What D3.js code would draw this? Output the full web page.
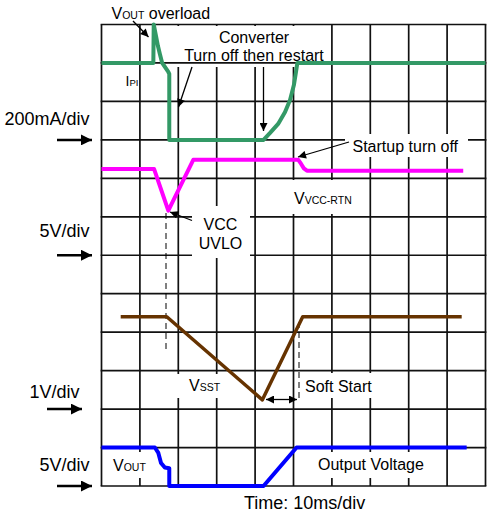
<!DOCTYPE html>
<html>
<head>
<meta charset="utf-8">
<script src="https://cdn.jsdelivr.net/npm/d3@7"></script>
<style>
html,body{margin:0;padding:0;background:#fff;}
svg{display:block;font-family:"Liberation Sans",Arial,sans-serif;}
</style>
</head>
<body>
<svg id="chart" width="490" height="518"></svg>
<script>
// ---- Data (time in ms, 10 ms/div) ----
const gridTimeTicks = d3.range(0, 101, 10);
const gridDivTicks = d3.range(0, 13, 1);

const ipiTime = [0, 13.5, 13.6, 14.2, 14.7, 15.2, 15.8, 17.4, 17.65, 17.65, 42.2, 43.9, 46.0, 47.8, 49.1, 50.1, 50.65, 51.0, 100];
const ipiMA   = [400, 400, 600, 540, 488, 447, 400, 353, 343, 0, 0, 36, 83, 145, 207, 285, 353, 400, 400];

const vccTime = [0, 13.7, 17.4, 23.9, 51.25, 51.95, 52.7, 53.5, 94.2];
const vccV    = [11.2, 11.2, 5.8, 12.4, 12.4, 11.9, 11.3, 11.0, 11.0];

const vsstTime = [5.0, 17.0, 41.9, 52.4, 93.8];
const vsstV    = [2.4, 2.4, 0.24, 2.4, 2.4];

const voutTime = [0, 13.9, 14.8, 15.5, 16.5, 17.65, 17.65, 42.2, 50.8, 95.1];
const voutV    = [5.0, 5.0, 4.3, 3.0, 2.4, 2.3, 0, 0, 5.0, 5.0];

// channel settings: zero level (division from bottom) and units per division
const channelNames = ["200mA/div", "5V/div", "1V/div", "5V/div"];
const channelZeroDiv = [9, 6, 2, 0];
const channelPerDiv = [200, 5, 1, 5];

// ---- Setup ----
const svg = d3.select("#chart");
const x = d3.scaleLinear().domain([0, 100]).range([101.5, 485.5]);
const yDiv = d3.scaleLinear().domain([0, 12]).range([486, 24.5]);

const defs = svg.append("defs");
defs.append("marker").attr("id", "ah").attr("viewBox", "0 0 10 10")
  .attr("refX", 10).attr("refY", 5).attr("markerWidth", 10).attr("markerHeight", 8)
  .attr("markerUnits", "userSpaceOnUse").attr("orient", "auto-start-reverse")
  .append("path").attr("d", "M0,0 L10,5 L0,10 Z").attr("fill", "#000");
defs.append("marker").attr("id", "ahBig").attr("viewBox", "0 0 10 10")
  .attr("refX", 10).attr("refY", 5).attr("markerWidth", 13).attr("markerHeight", 11)
  .attr("markerUnits", "userSpaceOnUse").attr("orient", "auto")
  .append("path").attr("d", "M0,0 L10,5 L0,10 Z").attr("fill", "#000");

const gridColor = "#111";
// vertical grid lines
svg.append("g").selectAll("line").data(gridTimeTicks).join("line")
  .attr("x1", d => x(d)).attr("x2", d => x(d))
  .attr("y1", yDiv(12)).attr("y2", yDiv(0))
  .attr("stroke", gridColor).attr("stroke-width", 1.7);

// masks that hide only vertical grid lines
const vMasks = [
  [172, 26, 128, 41],   // Converter text
  [290, 180, 62, 34],   // V_VCC-RTN
  [175, 374, 47, 24],   // V_SST
  [303, 373, 71, 25],   // Soft Start
  [314, 452, 114, 26],  // Output Voltage
  [110, 452, 40, 26]    // V_OUT
];
svg.append("g").selectAll("rect").data(vMasks).join("rect")
  .attr("x", d => d[0]).attr("y", d => d[1]).attr("width", d => d[2]).attr("height", d => d[3])
  .attr("fill", "#fff");

// horizontal grid lines
svg.append("g").selectAll("line").data(gridDivTicks).join("line")
  .attr("y1", d => yDiv(d)).attr("y2", d => yDiv(d))
  .attr("x1", x(0) - 0.85).attr("x2", x(100) + 0.85)
  .attr("stroke", gridColor).attr("stroke-width", 1.7);

// full masks
const fMasks = [
  [345, 134, 123, 23],  // Startup turn off
  [192, 206, 58, 52]    // VCC UVLO
];
svg.append("g").selectAll("rect").data(fMasks).join("rect")
  .attr("x", d => d[0]).attr("y", d => d[1]).attr("width", d => d[2]).attr("height", d => d[3])
  .attr("fill", "#fff");

// ---- Traces ----
function trace(times, vals, ch, color, width) {
  const pts = times.map((t, i) => [x(t), yDiv(channelZeroDiv[ch] + vals[i] / channelPerDiv[ch])]);
  svg.append("path").attr("d", d3.line()(pts))
    .attr("fill", "none").attr("stroke", color).attr("stroke-width", width)
    .attr("stroke-linejoin", "round");
}

// dashed guide lines
const dash = svg.append("g").attr("stroke", "#000").attr("stroke-width", 1).attr("stroke-dasharray", "6,4").attr("fill", "none");
dash.append("line").attr("x1", 166).attr("x2", 166).attr("y1", 213).attr("y2", 353);
dash.append("line").attr("x1", 299).attr("x2", 299).attr("y1", 322).attr("y2", 401);

trace(ipiTime, ipiMA, 0, "#339966", 4);
trace(vccTime, vccV, 1, "#ff00ff", 4);
trace(vsstTime, vsstV, 2, "#663300", 3.5);
trace(voutTime, voutV, 3, "#0000ff", 4);

// ---- Annotation arrows ----
const arrows = svg.append("g").attr("stroke", "#000").attr("stroke-width", 1.3).attr("fill", "none");
arrows.append("line").attr("x1", 133).attr("y1", 21).attr("x2", 148.5).attr("y2", 37).attr("marker-end", "url(#ah)");
arrows.append("line").attr("x1", 192).attr("y1", 67).attr("x2", 178.5).attr("y2", 107).attr("marker-end", "url(#ah)");
arrows.append("line").attr("x1", 263.5).attr("y1", 67).attr("x2", 263.5).attr("y2", 131).attr("marker-end", "url(#ah)");
arrows.append("line").attr("x1", 349).attr("y1", 142).attr("x2", 298).attr("y2", 157).attr("marker-end", "url(#ah)");
arrows.append("line").attr("x1", 192).attr("y1", 220.5).attr("x2", 170).attr("y2", 212).attr("marker-end", "url(#ah)");
arrows.append("line").attr("x1", 266).attr("y1", 399.5).attr("x2", 297).attr("y2", 399.5)
  .attr("marker-start", "url(#ah)").attr("marker-end", "url(#ah)");

// ---- Left channel labels and level arrows ----
const labelDy = [-15, -18, -11, -15];
const labelShift = [0, 0, -10, 0];
channelNames.forEach((name, i) => {
  const yy = yDiv(channelZeroDiv[i]);
  svg.append("text").attr("x", 89.5 + labelShift[i]).attr("y", yy + labelDy[i])
    .attr("text-anchor", "end").attr("font-size", 18).attr("fill", "#000").text(name);
  svg.append("line").attr("x1", 57 + labelShift[i]).attr("x2", 92 + labelShift[i])
    .attr("y1", yy).attr("y2", yy).attr("stroke", "#000").attr("stroke-width", 2.5)
    .attr("marker-end", "url(#ahBig)");
});

// ---- Text annotations ----
function subText(px, py, main, sub, rest, size, subSize) {
  const t = svg.append("text").attr("x", px).attr("y", py).attr("font-size", size).attr("fill", "#000");
  t.append("tspan").text(main);
  t.append("tspan").attr("font-size", subSize).text(sub);
  if (rest) t.append("tspan").text(rest);
  return t;
}
subText(111.5, 18.5, "V", "OUT", " overload", 16, 10.5);
subText(125.5, 85.5, "I", "PI", null, 14, 9.5);
subText(294, 204, "V", "VCC-RTN", null, 16, 10.5);
subText(189, 391, "V", "SST", null, 16, 10.5);
subText(113, 470.5, "V", "OUT", null, 16, 10.5);

const txt = (px, py, s, anchor, size) => svg.append("text").attr("x", px).attr("y", py)
  .attr("font-size", size || 16).attr("fill", "#000").attr("text-anchor", anchor || "start").text(s);
txt(254, 42.5, "Converter", "middle");
txt(254, 61, "Turn off then restart", "middle");
txt(352.5, 152, "Startup turn off");
txt(220.5, 230, "VCC", "middle");
txt(220.5, 248.5, "UVLO", "middle");
txt(305, 391.5, "Soft Start");
txt(318, 469.5, "Output Voltage");
txt(244, 509, "Time: 10ms/div", "start", 18);
</script>
</body>
</html>
